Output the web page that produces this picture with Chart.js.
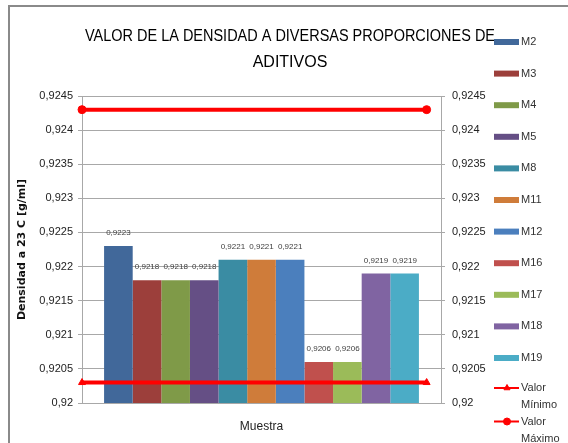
<!DOCTYPE html>
<html>
<head>
<meta charset="utf-8">
<script src="https://cdn.jsdelivr.net/npm/chart.js@4"></script>
<style>
  html, body { margin: 0; padding: 0; background: #fff; overflow: hidden; }
  #frame { position: absolute; left: 8px; top: 5px; width: 620px; height: 500px; border: 2px solid #8a8a8a; }
  canvas { position: absolute; left: 0; top: 0; }
</style>
</head>
<body>
<div id="frame"></div>
<canvas id="densityChart" width="568" height="443"></canvas>
<script>
const samples = ['M2', 'M3', 'M4', 'M5', 'M8', 'M11', 'M12', 'M16', 'M17', 'M18', 'M19'];
const densities = [0.9223, 0.9218, 0.9218, 0.9218, 0.9221, 0.9221, 0.9221, 0.9206, 0.9206, 0.9219, 0.9219];
const barColors = ['#41689a', '#9c3f3b', '#7f9a48', '#654f85', '#3a8ca3', '#cf7c3a', '#4b7fbd', '#c0504d', '#9bbb59', '#8064a2', '#4bacc6'];
const refLabels = ['Valor Mínimo', 'Valor Máximo'];
const refValues = [0.9203, 0.9243];
const refMarkers = ['triangle', 'circle'];
const yTicks = { min: 0.92, max: 0.9245, step: 0.0005 };
const categoryLabel = 'Muestra';
const titleLines = ['VALOR DE LA DENSIDAD A DIVERSAS PROPORCIONES DE', 'ADITIVOS'];

const sans = '"Liberation Sans", Arial, sans-serif';
const red = '#ff0000';
const fmt = v => parseFloat(v.toFixed(4)).toString().replace('.', ',');

const datasets = samples.map((s, i) => ({
    label: s,
    data: [densities[i]],
    backgroundColor: barColors[i]
}));

// min / max reference lines, value labels, title and side legend
const extras = {
    id: 'extras',
    afterDatasetsDraw(chart) {
        const ctx = chart.ctx;
        const area = chart.chartArea;
        const y = chart.scales.y;
        ctx.save();
        ctx.font = '8px ' + sans;
        ctx.fillStyle = '#404040';
        ctx.textAlign = 'center';
        ctx.textBaseline = 'middle';
        chart.data.datasets.forEach((ds, i) => {
            chart.getDatasetMeta(i).data.forEach((bar, j) => {
                ctx.fillText(fmt(ds.data[j]), bar.x, bar.y - 13, bar.width - 2);
            });
        });

        const x0 = area.left;
        const x1 = area.left + (area.right - area.left) * 0.96;
        refValues.forEach((v, k) => {
            const py = y.getPixelForValue(v);
            ctx.strokeStyle = red;
            ctx.lineWidth = 4;
            ctx.beginPath();
            ctx.moveTo(x0, py);
            ctx.lineTo(x1, py);
            ctx.stroke();
            ctx.fillStyle = red;
            ctx.strokeStyle = red;
            ctx.lineWidth = 1;
            [x0, x1].forEach(px => Chart.helpers.drawPoint(ctx, { pointStyle: refMarkers[k], radius: 4, borderWidth: 1 }, px, py));
        });
        ctx.restore();
    },
    afterDraw(chart) {
        const ctx = chart.ctx;
        ctx.save();
        // title
        ctx.fillStyle = '#000';
        ctx.textAlign = 'center';
        ctx.textBaseline = 'alphabetic';
        ctx.font = '16px ' + sans;
        ctx.fillText(titleLines[0], 290, 41, 410);
        ctx.fillText(titleLines[1], 290, 67, 410);

        // legend
        ctx.font = '11px ' + sans;
        ctx.textAlign = 'left';
        ctx.textBaseline = 'middle';
        let y = 42;
        chart.data.datasets.forEach(ds => {
            ctx.fillStyle = ds.backgroundColor;
            ctx.fillRect(494, y - 3, 25, 6);
            ctx.fillStyle = '#333';
            ctx.fillText(ds.label, 521, y);
            y += 31.6;
        });
        y -= 1.6;
        refLabels.forEach((label, k) => {
            ctx.strokeStyle = red;
            ctx.lineWidth = 2;
            ctx.beginPath();
            ctx.moveTo(494, y);
            ctx.lineTo(519, y);
            ctx.stroke();
            ctx.fillStyle = red;
            ctx.lineWidth = 1;
            Chart.helpers.drawPoint(ctx, { pointStyle: refMarkers[k], radius: 3.5, borderWidth: 1 }, 507, y);
            ctx.fillStyle = '#333';
            const parts = label.split(' ');
            ctx.fillText(parts[0], 521, y);
            ctx.fillText(parts[1], 521, y + 17);
            y += 33.5;
        });
        ctx.restore();
    }
};

const chart = new Chart(document.getElementById('densityChart').getContext('2d'), {
    type: 'bar',
    data: {
        labels: [categoryLabel],
        datasets: datasets
    },
    options: {
        responsive: false,
        animation: false,
        barPercentage: 1,
        categoryPercentage: 0.877,
        layout: { padding: { left: 0, right: 67, top: 96, bottom: 0 } },
        plugins: {
            legend: { display: false },
            title: { display: false },
            tooltip: { enabled: false }
        },
        scales: {
            x: {
                grid: { display: false },
                border: { display: false },
                ticks: { color: '#222', font: { family: sans, size: 12 }, padding: 8 },
                afterFit(scale) { scale.height = 40; }
            },
            y: {
                position: 'left',
                min: yTicks.min,
                max: yTicks.max,
                grid: { color: '#a8a8a8', tickLength: 4 },
                border: { color: '#a8a8a8' },
                ticks: {
                    stepSize: yTicks.step,
                    color: '#222',
                    padding: 5,
                    font: { family: sans, size: 11 },
                    callback: v => fmt(v)
                },
                title: {
                    display: true,
                    text: 'Densidad a 23 C [g/ml]',
                    color: '#111',
                    font: { family: '"DejaVu Sans", sans-serif', size: 11, weight: 'bold' },
                    padding: { top: 16, bottom: 0 }
                },
                afterFit(scale) { scale.width = 82; }
            },
            y2: {
                position: 'right',
                min: yTicks.min,
                max: yTicks.max,
                grid: { drawOnChartArea: false, color: '#a8a8a8', tickLength: 4 },
                border: { color: '#a8a8a8' },
                ticks: {
                    stepSize: yTicks.step,
                    color: '#222',
                    padding: 7,
                    font: { family: sans, size: 11 },
                    callback: v => fmt(v)
                },
                afterFit(scale) { scale.width = 60; }
            }
        }
    },
    plugins: [extras]
});
</script>
</body>
</html>
